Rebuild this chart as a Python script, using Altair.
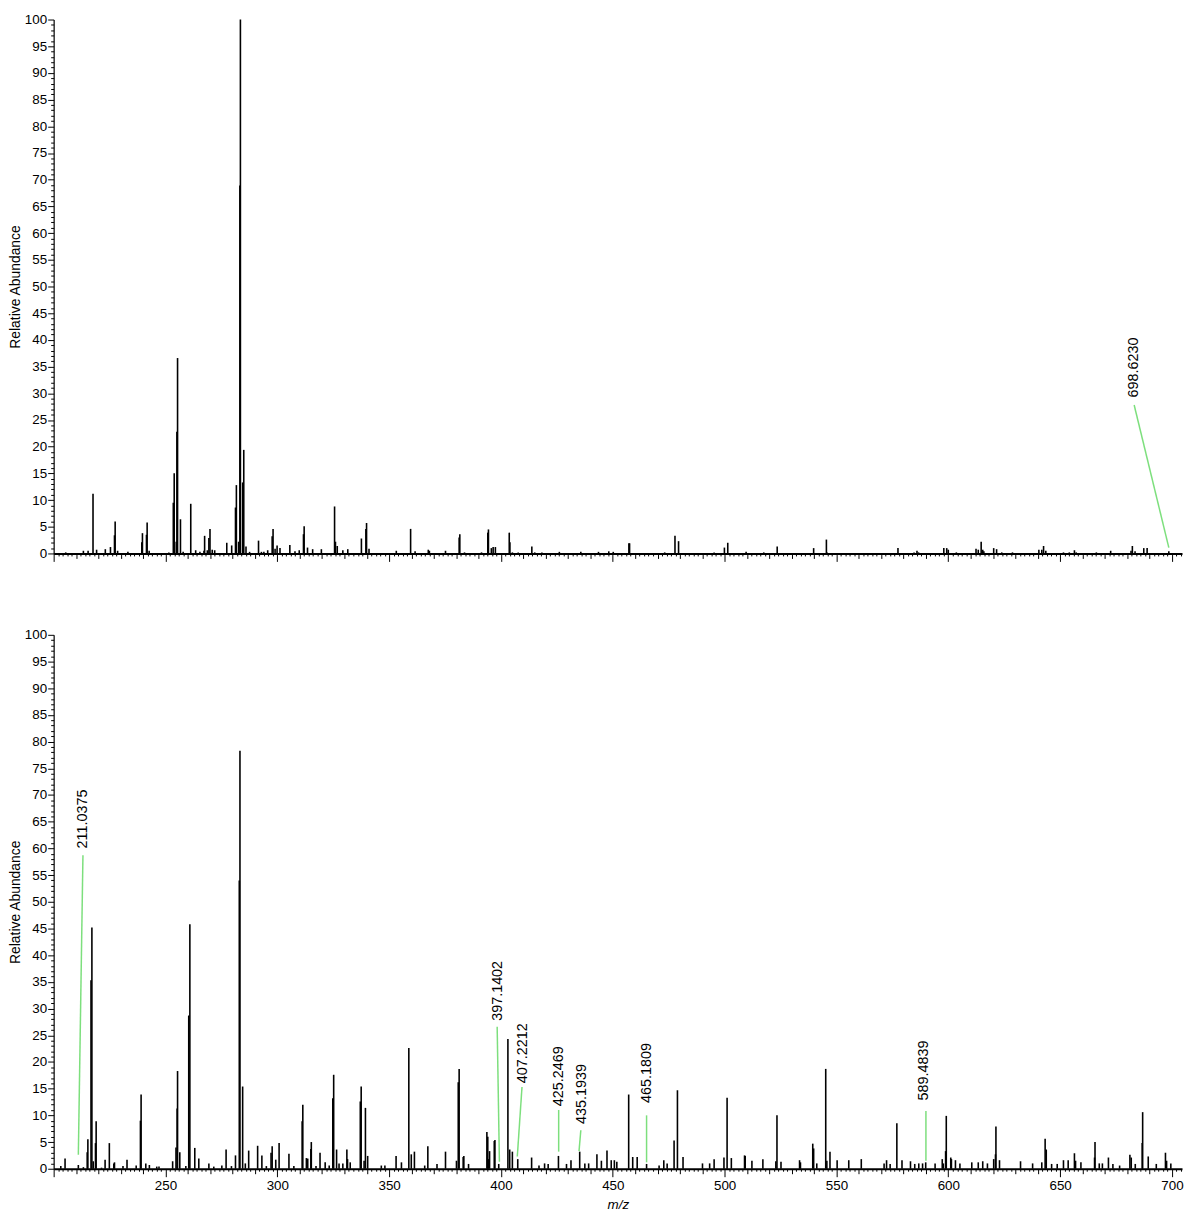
import altair as alt
import pandas as pd

FONT = "Liberation Sans"
GREEN = "#7ddf7d"
X_DOMAIN = [200, 704.5]
Y_DOMAIN = [0, 100]

# (m/z, relative abundance) — upper spectrum
top_peaks = [
    (205.4, 0.2), (213.3, 0.5), (215.4, 0.5), (217.6, 11.2), (219.2, 0.7), (223.1, 0.8),
    (225.4, 1.2), (227.2, 3.4), (227.5, 6.0), (228.6, 0.5), (233.2, 0.3), (239.4, 2.1),
    (239.7, 3.8), (241.5, 3.5), (241.8, 5.8), (242.7, 0.5), (251.5, 0.2), (253.5, 9.5),
    (253.9, 15.0), (254.8, 2.2), (255.1, 22.8), (255.4, 36.6), (256.7, 6.4), (257.9, 0.3),
    (261.3, 9.3), (263.5, 0.6), (265.4, 0.3), (267.2, 0.5), (267.5, 3.3), (268.7, 0.6),
    (269.4, 2.9), (269.9, 4.6), (270.9, 0.7), (272.0, 0.6), (277.4, 2.0), (279.6, 1.5),
    (281.3, 8.6), (281.7, 12.8), (282.7, 2.2), (283.26, 68.9), (283.5, 100.0), (284.5, 13.3),
    (285.0, 19.4), (286.0, 1.3), (287.6, 0.3), (291.6, 2.4), (292.9, 0.3), (294.0, 0.3),
    (295.7, 0.6), (297.7, 3.2), (298.1, 4.6), (299.0, 0.9), (299.9, 1.5), (301.2, 1.0),
    (305.6, 1.6), (307.9, 0.4), (309.8, 0.6), (311.7, 3.6), (312.0, 5.1), (313.5, 1.1),
    (315.8, 0.8), (319.7, 0.8), (325.6, 8.8), (326.0, 2.2), (326.8, 1.4), (329.3, 0.6),
    (331.5, 0.8), (337.6, 2.8), (339.6, 4.6), (339.9, 5.7), (341.0, 0.9), (353.2, 0.5),
    (359.6, 4.6), (361.6, 0.4), (367.5, 0.7), (368.0, 0.5), (375.2, 0.5), (381.3, 3.0),
    (381.6, 3.6), (383.7, 0.2), (391.3, 0.2), (394.1, 3.9), (394.4, 4.5), (395.7, 1.0),
    (396.5, 1.2), (397.5, 1.2), (403.7, 3.9), (404.0, 2.1), (405.1, 0.2), (407.7, 0.2),
    (413.8, 1.3), (415.1, 0.2), (418.3, 0.2), (426.1, 0.3), (435.7, 0.3), (443.6, 0.3),
    (448.2, 0.4), (450.2, 0.3), (457.2, 1.9), (457.5, 1.9), (473.2, 0.2), (477.8, 3.3),
    (479.4, 2.3), (495.3, 0.2), (499.9, 1.1), (501.4, 2.0), (509.6, 0.3), (517.5, 0.2),
    (523.5, 1.3), (539.8, 1.0), (545.5, 2.6), (545.8, 0.2), (577.5, 1.0), (584.7, 0.2),
    (586.0, 0.5), (586.7, 0.2), (598.0, 1.0), (599.3, 1.0), (600.0, 0.7), (603.6, 0.2),
    (612.4, 0.9), (613.4, 0.7), (614.7, 2.2), (615.4, 0.7), (615.9, 0.4), (620.3, 1.0),
    (621.6, 0.8), (623.9, 0.2), (628.7, 0.2), (640.5, 0.7), (641.8, 0.7), (642.6, 1.4),
    (643.6, 0.5), (651.5, 0.2), (654.1, 0.2), (656.4, 0.6), (657.2, 0.2), (666.2, 0.2),
    (672.6, 0.5), (681.7, 0.5), (682.3, 1.4), (683.5, 0.4), (687.4, 1.0), (688.9, 1.0),
    (698.6, 0.4),
]

# (m/z, relative abundance) — lower spectrum
bottom_peaks = [
    (203.2, 0.5), (205.1, 1.9), (211.04, 0.7), (213.3, 0.3), (215.0, 3.1), (215.3, 5.5),
    (216.7, 35.3), (217.1, 45.2), (217.7, 1.4), (218.7, 4.8), (219.0, 8.9), (221.4, 0.2),
    (223.0, 1.7), (224.9, 4.8), (226.9, 1.0), (227.2, 1.2), (231.0, 0.5), (232.8, 1.7),
    (236.9, 0.6), (238.8, 9.0), (239.1, 13.9), (241.2, 1.0), (242.8, 0.7), (246.1, 0.4),
    (247.1, 0.4), (253.2, 1.4), (254.7, 4.0), (255.2, 11.3), (255.4, 18.3), (256.4, 3.1),
    (259.1, 0.5), (260.4, 28.7), (260.9, 45.8), (263.1, 3.9), (264.9, 1.9), (269.4, 1.0),
    (271.6, 0.4), (275.2, 0.6), (277.1, 3.6), (279.5, 0.5), (281.3, 2.5), (283.0, 54.0),
    (283.3, 78.3), (284.5, 15.4), (285.7, 1.0), (287.2, 3.4), (291.2, 4.3), (293.1, 2.5),
    (295.1, 0.5), (297.2, 3.0), (297.7, 4.2), (299.3, 1.7), (300.8, 4.8), (305.2, 2.8),
    (307.4, 0.5), (311.1, 8.9), (311.4, 12.0), (313.0, 2.0), (313.6, 1.9), (315.0, 3.7),
    (315.2, 5.0), (317.3, 0.5), (319.1, 3.0), (321.4, 1.2), (323.2, 0.6), (324.8, 13.2),
    (325.2, 17.6), (326.5, 3.6), (327.6, 1.0), (329.3, 1.0), (331.1, 3.6), (331.4, 1.8),
    (332.6, 1.2), (337.1, 12.6), (337.5, 15.4), (338.8, 1.5), (339.4, 11.4), (340.4, 2.4),
    (346.5, 0.6), (348.1, 0.6), (353.1, 2.4), (355.5, 1.2), (358.8, 22.6), (359.9, 2.7),
    (361.3, 3.2), (365.9, 0.6), (367.3, 4.2), (371.4, 0.9), (375.2, 3.2), (380.1, 1.5),
    (380.9, 16.2), (381.3, 18.7), (383.1, 2.2), (383.4, 2.4), (385.5, 0.9), (393.7, 6.9),
    (394.1, 6.0), (394.4, 1.8), (394.9, 3.3), (397.0, 5.2), (397.3, 5.4), (399.0, 0.9),
    (403.1, 24.3), (403.9, 3.6), (405.1, 3.2), (407.5, 1.8), (413.7, 2.1), (417.0, 0.6),
    (419.5, 1.0), (421.1, 0.9), (425.7, 2.4), (429.3, 0.9), (431.3, 1.6), (435.2, 3.2),
    (437.5, 1.0), (439.2, 1.0), (442.9, 2.7), (444.9, 1.5), (447.4, 3.4), (449.3, 1.6),
    (450.7, 1.6), (451.8, 1.3), (457.1, 13.9), (458.9, 2.2), (460.9, 2.2), (465.1, 0.9),
    (470.7, 0.6), (472.8, 1.6), (474.3, 1.0), (477.4, 5.3), (478.9, 14.7), (481.4, 2.2),
    (490.1, 1.0), (493.3, 1.0), (495.3, 1.8), (499.7, 2.1), (501.1, 13.3), (503.0, 2.0),
    (508.9, 2.5), (509.2, 2.4), (512.2, 1.5), (517.1, 1.8), (522.9, 1.4), (523.4, 10.0),
    (525.2, 1.3), (533.5, 1.6), (533.9, 1.2), (539.4, 4.7), (539.8, 3.8), (541.2, 1.0),
    (545.2, 18.7), (545.7, 1.5), (547.1, 3.2), (550.3, 1.6), (555.5, 1.6), (561.1, 1.8),
    (571.3, 1.0), (572.4, 1.6), (574.0, 0.9), (577.0, 8.5), (579.3, 1.6), (583.1, 1.4),
    (585.0, 0.9), (586.8, 1.0), (588.5, 1.0), (589.9, 1.2), (594.1, 1.0), (597.3, 1.8),
    (597.8, 1.0), (598.8, 3.3), (599.1, 9.9), (601.1, 2.1), (601.4, 1.8), (603.2, 1.6),
    (605.2, 1.0), (610.5, 1.2), (613.4, 1.2), (615.4, 1.4), (617.5, 1.0), (620.3, 1.8),
    (621.1, 2.7), (621.3, 7.9), (622.9, 1.6), (632.3, 1.4), (637.7, 1.0), (641.8, 1.2),
    (643.3, 5.6), (643.8, 3.6), (646.2, 0.9), (648.7, 0.9), (651.5, 1.6), (653.6, 1.6),
    (656.4, 2.9), (656.9, 1.5), (659.3, 1.2), (665.4, 2.1), (665.6, 5.0), (667.5, 1.0),
    (668.9, 1.0), (671.6, 2.1), (673.6, 0.9), (676.6, 0.6), (681.2, 2.6), (681.8, 2.1),
    (683.6, 0.9), (686.7, 4.8), (686.9, 10.6), (689.4, 2.3), (693.0, 0.9), (697.1, 3.0),
    (697.6, 1.5), (699.5, 1.0),
]

# annotations: label, leader base (m/z, abundance), leader tip, label anchor
top_labels = ["698.6230"]
top_base = [(698.6, 1.1)]
top_tip = [(683.1, 27.8)]
top_text = [(683.1, 29.2)]

bottom_labels = ["211.0375", "397.1402", "407.2212", "425.2469", "435.1939", "465.1809", "589.4839"]
bottom_base = [(211.04, 2.6), (399.3, 1.3), (407.3, 2.3), (425.8, 3.2), (434.9, 3.3), (465.1, 1.2), (590.0, 1.5)]
bottom_tip = [(213.1, 58.7), (398.3, 26.6), (409.4, 15.3), (425.8, 11.0), (435.7, 7.2), (465.1, 10.0), (590.0, 10.8)]
bottom_text = [(213.1, 60.0), (398.6, 27.7), (409.9, 16.0), (425.9, 11.7), (436.3, 8.4), (465.3, 12.3), (589.3, 12.8)]

x_tick_values = list(range(200, 705, 2))
y_tick_values = list(range(0, 101))

PLOT_W = 1137
PLOT_H = 538


def ann_frame(labels, base, tip, text):
    return pd.DataFrame({
        "label": labels,
        "mz": [b[0] for b in base], "ab": [b[1] for b in base],
        "mz2": [t[0] for t in tip], "ab2": [t[1] for t in tip],
        "lmz": [t[0] for t in text], "lab": [t[1] for t in text],
    })


def make_axes(show_x_labels):
    x_axis_kwargs = dict(
        values=x_tick_values,
        tickSize={"condition": [
            {"test": "datum.value % 50 === 0", "value": 8},
            {"test": "datum.value % 10 === 0", "value": 5},
        ], "value": 2.5},
        tickColor="black", tickWidth=1,
        domainColor="black", domainWidth=2,
        grid=False, labelOverlap=False, labelFlush=False,
    )
    if show_x_labels:
        x_axis = alt.Axis(
            labelExpr="datum.value % 50 === 0 && datum.value > 200 ? datum.label : ''",
            labelFont=FONT, labelFontSize=13.5, labelColor="black", labelPadding=2,
            title="m/z", titleFont=FONT, titleFontSize=13.5, titleFontStyle="italic",
            titleFontWeight="normal", titleColor="black", titlePadding=6,
            **x_axis_kwargs,
        )
    else:
        x_axis = alt.Axis(labels=False, title=None, **x_axis_kwargs)

    y_axis = alt.Axis(
        values=y_tick_values,
        tickSize={"condition": {"test": "datum.value % 5 === 0", "value": 6}, "value": 3},
        labelExpr="datum.value % 5 === 0 ? datum.label : ''",
        labelOverlap=False, labelFont=FONT, labelFontSize=13.5, labelColor="black",
        labelPadding=1, tickColor="black", tickWidth=1,
        domainColor="black", domainWidth=1.2, grid=False,
        title="Relative Abundance", titleFont=FONT, titleFontSize=14,
        titleFontWeight="normal", titleColor="black", titlePadding=2,
    )
    return x_axis, y_axis


def panel(peaks, adf, show_x_labels):
    df = pd.DataFrame(peaks, columns=["mz", "ab"])
    xs = alt.Scale(domain=X_DOMAIN, nice=False, zero=False)
    ys = alt.Scale(domain=Y_DOMAIN, nice=False)
    x_axis, y_axis = make_axes(show_x_labels)
    xt = "m/z" if show_x_labels else None

    bars = alt.Chart(df).mark_rule(color="black", strokeWidth=1.6).encode(
        x=alt.X("mz:Q", scale=xs, axis=x_axis, title=xt),
        y=alt.Y("ab:Q", scale=ys, axis=y_axis, title="Relative Abundance"),
        y2=alt.datum(0),
    )
    leaders = alt.Chart(adf).mark_rule(color=GREEN, strokeWidth=1.5).encode(
        x=alt.X("mz:Q", scale=xs, axis=x_axis, title=xt),
        y=alt.Y("ab:Q", scale=ys, axis=y_axis, title="Relative Abundance"),
        x2="mz2",
        y2="ab2",
    )
    texts = alt.Chart(adf).mark_text(
        angle=270, align="left", baseline="middle", font=FONT, fontSize=14.5, color="black"
    ).encode(
        x=alt.X("lmz:Q", scale=xs, axis=x_axis, title=xt),
        y=alt.Y("lab:Q", scale=ys, axis=y_axis, title="Relative Abundance"),
        text="label:N",
    )
    return alt.layer(bars, leaders, texts).properties(width=PLOT_W, height=PLOT_H)


top = panel(top_peaks, ann_frame(top_labels, top_base, top_tip, top_text), False)
bottom = panel(bottom_peaks, ann_frame(bottom_labels, bottom_base, bottom_tip, bottom_text), True)

chart = alt.vconcat(top, bottom, spacing=82, bounds="flush").properties(
    padding=0, background="white"
).configure_view(stroke=None)

chart.save("out.html", embed_options={"renderer": "svg", "actions": False})
